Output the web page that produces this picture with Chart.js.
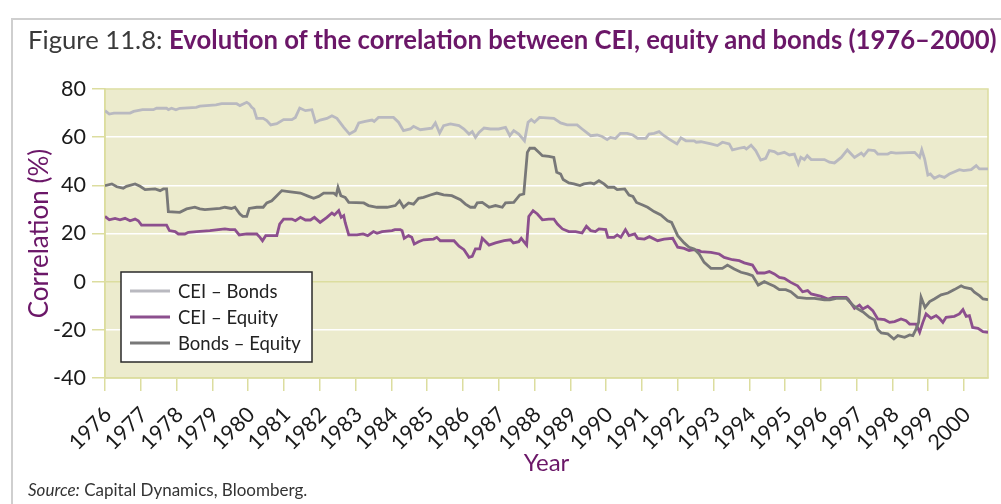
<!DOCTYPE html>
<html>
<head>
<meta charset="utf-8">
<script src="https://cdn.jsdelivr.net/npm/chart.js@4.4.1/dist/chart.umd.min.js"></script>
<style>
  html, body { margin: 0; padding: 0; background: #fff; }
  #wrap { position: relative; width: 1001px; height: 504px; overflow: hidden; font-family: Lato, sans-serif; }
  #c { position: absolute; left: 0; top: 0; }
  #title { position: absolute; left: 28px; top: 24px; font-size: 25.7px; white-space: nowrap; line-height: 30px; }
  #title .lead { font-weight: 400; color: #3a3a3a; }
  #title .main { font-weight: 700; color: #6b1768; }
  #source { position: absolute; left: 28px; top: 479px; font-size: 17px; color: #333; white-space: nowrap; line-height: 22px; }
</style>
</head>
<body>
<div id="wrap">
  <canvas id="c" width="1001" height="504"></canvas>
  <div id="title"><span class="lead">Figure 11.8: </span><span class="main">Evolution of the correlation between CEI, equity and bonds (1976–2000)</span></div>
  <div id="source"><i>Source:</i> Capital Dynamics, Bloomberg.</div>
</div>
<script>
// ---- Data ----
const seriesLabels = ['CEI – Bonds', 'CEI – Equity', 'Bonds – Equity'];
const yTicks = [-40, -20, 0, 20, 40, 60, 80];
const xTickYears = [1976,1977,1978,1979,1980,1981,1982,1983,1984,1985,1986,1987,1988,1989,1990,1991,1992,1993,1994,1995,1996,1997,1998,1999,2000];

const ceiBondsX = [1976.00,1976.12,1976.25,1976.70,1976.80,1977.05,1977.35,1977.44,1977.72,1977.77,1977.86,1977.98,1978.09,1978.55,1978.65,1979.10,1979.26,1979.68,1979.77,1979.96,1980.03,1980.10,1980.16,1980.24,1980.42,1980.52,1980.63,1980.80,1980.99,1981.22,1981.32,1981.44,1981.60,1981.78,1981.88,1982.01,1982.20,1982.34,1982.48,1982.67,1982.83,1982.99,1983.09,1983.27,1983.46,1983.52,1983.64,1984.06,1984.20,1984.34,1984.53,1984.62,1984.81,1985.13,1985.23,1985.35,1985.46,1985.65,1985.89,1986.03,1986.17,1986.26,1986.35,1986.45,1986.59,1986.77,1987.00,1987.19,1987.31,1987.42,1987.56,1987.72,1987.82,1987.91,1988.00,1988.14,1988.54,1988.73,1988.91,1989.19,1989.33,1989.57,1989.75,1989.89,1990.03,1990.12,1990.26,1990.40,1990.59,1990.75,1990.88,1991.11,1991.20,1991.34,1991.48,1991.62,1991.76,1991.98,1992.09,1992.23,1992.46,1992.52,1992.65,1992.93,1993.11,1993.25,1993.44,1993.53,1993.72,1993.86,1993.92,1994.05,1994.18,1994.32,1994.46,1994.56,1994.70,1994.80,1994.98,1995.12,1995.26,1995.37,1995.44,1995.54,1995.62,1995.73,1996.10,1996.24,1996.38,1996.57,1996.74,1996.94,1997.13,1997.20,1997.33,1997.50,1997.59,1997.87,1997.96,1998.10,1998.62,1998.76,1998.82,1998.90,1998.99,1999.06,1999.17,1999.31,1999.45,1999.59,1999.87,1999.99,2000.20,2000.34,2000.43,2000.67];
const ceiBondsY = [71.0,69.6,70.0,70.0,70.7,71.4,71.4,72.0,72.0,71.4,72.0,71.4,72.0,72.4,72.9,73.4,73.9,73.9,73.1,74.5,73.8,72.4,71.7,67.8,67.8,66.9,65.1,65.6,67.3,67.3,68.2,72.1,71.0,71.4,66.2,67.1,67.8,68.9,67.8,64.1,61.3,62.7,65.9,66.6,67.1,66.5,68.2,68.2,66.2,62.7,63.4,64.5,63.1,63.7,65.9,61.7,64.8,65.5,64.8,63.4,61.3,62.3,59.9,62.0,63.8,63.4,63.4,64.1,60.6,62.7,61.3,58.5,66.2,67.3,66.2,68.2,67.8,65.9,65.1,65.1,63.4,60.6,60.9,60.3,59.0,59.9,59.5,61.6,61.6,60.9,59.5,59.5,61.3,61.6,62.3,60.6,59.2,57.2,59.7,58.5,58.5,57.9,58.1,57.2,56.5,57.9,57.2,54.7,55.4,55.8,55.1,56.7,54.4,50.5,51.2,54.4,54.0,53.0,53.7,52.6,53.0,48.9,51.6,50.7,52.3,50.7,50.7,49.6,49.3,51.6,54.7,51.6,53.4,52.3,54.7,54.4,53.0,53.0,53.7,53.4,53.7,51.6,54.8,50.9,44.3,44.7,42.9,44.0,43.3,44.7,46.5,46.1,46.5,48.2,46.8,46.8];

const ceiEquityX = [1976.00,1976.12,1976.28,1976.42,1976.56,1976.70,1976.84,1976.93,1977.02,1977.72,1977.80,1977.96,1978.05,1978.23,1978.33,1978.56,1978.93,1979.17,1979.35,1979.49,1979.63,1979.75,1979.96,1980.24,1980.33,1980.40,1980.49,1980.80,1980.88,1980.99,1981.22,1981.32,1981.46,1981.60,1981.74,1981.85,1982.01,1982.20,1982.34,1982.41,1982.53,1982.60,1982.67,1982.71,1982.81,1983.04,1983.21,1983.34,1983.50,1983.60,1983.74,1984.02,1984.10,1984.25,1984.30,1984.36,1984.48,1984.57,1984.64,1984.76,1984.90,1985.18,1985.27,1985.37,1985.75,1985.89,1986.03,1986.17,1986.26,1986.35,1986.47,1986.54,1986.73,1986.91,1987.15,1987.33,1987.41,1987.56,1987.63,1987.78,1987.84,1987.96,1988.08,1988.22,1988.40,1988.54,1988.64,1988.78,1988.96,1989.15,1989.33,1989.45,1989.57,1989.70,1989.80,1989.99,1990.05,1990.22,1990.31,1990.41,1990.54,1990.64,1990.80,1990.88,1991.07,1991.21,1991.44,1991.62,1991.86,1992.00,1992.18,1992.32,1992.46,1992.60,1992.65,1992.93,1993.16,1993.30,1993.53,1993.72,1993.86,1994.09,1994.23,1994.42,1994.56,1994.70,1994.84,1994.98,1995.16,1995.35,1995.49,1995.63,1995.73,1996.01,1996.20,1996.34,1996.71,1996.76,1996.94,1997.08,1997.17,1997.31,1997.45,1997.59,1997.78,1997.92,1998.06,1998.24,1998.38,1998.48,1998.66,1998.76,1998.85,1998.94,1999.08,1999.22,1999.31,1999.41,1999.50,1999.73,1999.87,1999.97,2000.06,2000.15,2000.24,2000.39,2000.53,2000.67];
const ceiEquityY = [27.1,25.7,26.3,25.7,26.3,25.3,26.0,25.3,23.5,23.5,21.2,20.8,19.8,19.8,20.5,20.8,21.2,21.6,21.9,21.6,21.6,19.4,19.8,19.8,18.4,17.0,19.1,19.1,23.9,26.0,26.0,25.3,26.7,25.6,25.6,26.7,24.6,26.7,28.5,27.7,29.5,26.7,27.4,24.6,19.4,19.4,19.8,19.1,20.8,20.1,20.8,21.2,21.6,21.6,21.2,18.0,19.1,18.4,15.6,16.6,17.4,17.7,18.4,17.0,17.0,14.7,13.3,10.1,10.5,13.6,13.6,18.0,15.2,16.1,17.0,17.4,16.1,16.6,18.0,15.2,27.1,29.5,28.1,25.7,26.0,26.0,23.9,21.9,20.8,20.8,20.2,23.0,21.2,20.8,21.9,21.6,18.4,18.4,19.4,18.4,21.6,19.1,19.8,18.0,17.7,18.7,17.0,17.7,18.0,14.3,13.8,12.9,13.3,12.9,12.5,12.2,11.5,10.1,9.1,8.7,7.8,6.9,3.6,3.6,4.2,3.2,1.8,1.4,-0.3,-1.7,-4.2,-3.7,-5.1,-6.1,-7.2,-6.5,-6.5,-7.2,-11.1,-9.7,-11.3,-10.2,-12.0,-15.5,-15.8,-16.9,-16.6,-15.5,-16.2,-17.6,-17.6,-21.0,-16.9,-13.4,-15.2,-14.1,-15.2,-16.9,-14.8,-14.4,-13.4,-11.6,-14.4,-14.1,-19.0,-19.4,-20.8,-21.0];

const bondsEquityX = [1976.00,1976.19,1976.33,1976.51,1976.60,1976.84,1976.98,1977.12,1977.40,1977.54,1977.63,1977.72,1977.77,1978.09,1978.28,1978.51,1978.65,1978.79,1979.21,1979.35,1979.53,1979.63,1979.77,1979.85,1979.96,1980.03,1980.24,1980.42,1980.52,1980.66,1980.78,1980.94,1981.13,1981.46,1981.69,1981.83,1981.97,1982.11,1982.39,1982.46,1982.51,1982.59,1982.71,1982.81,1983.23,1983.36,1983.60,1983.88,1984.11,1984.23,1984.34,1984.48,1984.62,1984.76,1984.90,1985.09,1985.27,1985.46,1985.69,1985.93,1986.07,1986.21,1986.33,1986.40,1986.54,1986.73,1986.91,1987.10,1987.19,1987.42,1987.59,1987.70,1987.80,1987.87,1988.00,1988.12,1988.22,1988.40,1988.54,1988.62,1988.73,1988.80,1988.96,1989.10,1989.27,1989.38,1989.57,1989.66,1989.80,1989.94,1990.05,1990.22,1990.31,1990.52,1990.64,1990.75,1990.85,1991.02,1991.16,1991.34,1991.53,1991.72,1991.83,1992.00,1992.18,1992.32,1992.46,1992.60,1992.74,1992.93,1993.25,1993.39,1993.58,1993.77,1993.95,1994.09,1994.25,1994.42,1994.56,1994.70,1994.84,1995.02,1995.16,1995.35,1995.60,1995.82,1996.10,1996.25,1996.43,1996.71,1996.89,1997.03,1997.17,1997.36,1997.50,1997.59,1997.69,1997.87,1998.04,1998.15,1998.34,1998.48,1998.57,1998.66,1998.73,1998.80,1998.91,1999.04,1999.17,1999.36,1999.55,1999.73,1999.92,2000.01,2000.20,2000.29,2000.43,2000.53,2000.67];
const bondsEquityY = [39.9,40.6,39.4,38.8,39.6,40.6,39.6,38.2,38.5,37.8,38.5,38.5,29.1,28.8,30.2,30.9,30.2,29.9,30.4,30.9,30.4,30.9,28.1,27.1,27.1,30.4,30.9,30.9,32.7,33.6,35.4,37.8,37.4,36.8,35.4,34.6,35.4,36.8,36.8,36.0,39.2,35.7,35.0,32.9,32.7,31.6,30.9,30.9,31.6,33.6,30.9,32.7,32.2,34.6,35.0,36.0,36.8,36.0,35.7,34.0,32.2,30.9,30.9,32.7,32.9,30.9,31.6,30.9,32.7,32.9,36.0,36.4,53.7,55.4,55.4,53.7,52.3,52.0,51.6,45.4,44.7,42.4,41.0,40.6,39.9,40.6,41.0,40.6,41.9,40.6,39.2,39.2,38.2,38.5,36.0,35.4,32.9,31.8,30.9,29.1,27.7,25.3,24.6,19.1,16.1,14.3,13.6,11.5,8.0,5.5,5.5,6.9,5.3,3.9,3.2,2.5,-1.4,0.0,-1.0,-1.9,-3.3,-3.3,-4.2,-6.5,-6.9,-6.9,-7.5,-7.5,-6.9,-6.9,-9.7,-11.3,-12.5,-14.8,-15.8,-19.9,-21.3,-21.7,-23.8,-22.4,-23.1,-22.1,-22.4,-19.7,-16.9,-6.5,-10.7,-8.3,-7.2,-5.5,-4.7,-3.3,-1.7,-2.4,-3.0,-4.4,-5.8,-7.2,-7.5];

const xMin = 1976, xMax = 2000.67;

// ---- Build ----
const zip = (xs, ys) => xs.map((x, i) => ({ x: x, y: ys[i] }));
const PURPLE = '#6b1768';
const YEL = '#dcdd9f';
const colors = ['#b9b9c0', '#8c4f8e', '#787878'];

const plotDecor = {
  id: 'plotDecor',
  beforeDraw(chart) {
    const { ctx, chartArea: a } = chart;
    ctx.save();
    ctx.strokeStyle = '#cfcfcf';
    ctx.lineWidth = 2;
    ctx.beginPath();
    ctx.moveTo(12, 504); ctx.lineTo(12, 19); ctx.lineTo(1001, 19);
    ctx.stroke();
    ctx.fillStyle = '#ecebcd';
    ctx.fillRect(a.left, a.top, a.right - a.left, a.bottom - a.top);
    ctx.restore();
  },
  beforeDatasetsDraw(chart) {
    const { ctx, chartArea: a } = chart;
    ctx.save();
    ctx.strokeStyle = YEL;
    ctx.lineWidth = 1.5;
    ctx.strokeRect(a.left, a.top, a.right - a.left, a.bottom - a.top);
    ctx.restore();
  },
  afterDatasetsDraw(chart) {
    const { ctx, chartArea: a } = chart;
    const ds = chart.data.datasets;
    const bx = a.left + 16, by = a.top + 183, bw = 191, bh = 90;
    ctx.save();
    ctx.fillStyle = '#ffffff';
    ctx.fillRect(bx, by, bw, bh);
    ctx.strokeStyle = '#2a2a2a';
    ctx.lineWidth = 1.5;
    ctx.strokeRect(bx, by, bw, bh);
    ctx.font = '18.5px Lato, sans-serif';
    ctx.textBaseline = 'middle';
    ctx.textAlign = 'left';
    ds.forEach((d, i) => {
      const y = by + 19 + i * 26;
      ctx.strokeStyle = d.borderColor;
      ctx.lineWidth = 3;
      ctx.beginPath();
      ctx.moveTo(bx + 9, y); ctx.lineTo(bx + 49, y);
      ctx.stroke();
      ctx.fillStyle = '#222';
      ctx.fillText(d.label, bx + 57, y + 1);
    });
    ctx.restore();
  }
};

function build() {
  Chart.defaults.font.family = 'Lato, sans-serif';
  new Chart(document.getElementById('c'), {
    type: 'line',
    data: {
      datasets: [
        { label: seriesLabels[0], data: zip(ceiBondsX, ceiBondsY), borderColor: colors[0], order: 2 },
        { label: seriesLabels[1], data: zip(ceiEquityX, ceiEquityY), borderColor: colors[1], order: 1 },
        { label: seriesLabels[2], data: zip(bondsEquityX, bondsEquityY), borderColor: colors[2], order: 0 }
      ].map(d => Object.assign(d, { borderWidth: 2.8, pointRadius: 0, tension: 0, fill: false }))
    },
    options: {
      responsive: false,
      animation: false,
      devicePixelRatio: 1,
      layout: { padding: { left: 0, right: 13, top: 89, bottom: 0 } },
      plugins: { legend: { display: false }, tooltip: { enabled: false }, title: { display: false } },
      scales: {
        x: {
          type: 'linear',
          min: xMin, max: xMax,
          afterFit: s => { s.height = 126; },
          afterBuildTicks: s => { s.ticks = xTickYears.map(v => ({ value: v })); },
          ticks: {
            autoSkip: false, maxRotation: 45, minRotation: 45, padding: 11, labelOffset: 3,
            color: '#1a1a1a', font: { size: 21.5 },
            callback: v => String(v)
          },
          grid: { drawOnChartArea: false, drawTicks: true, tickLength: 13, tickColor: YEL, lineWidth: 1.5 },
          border: { display: true, color: YEL, width: 1.5 },
          title: { display: true, text: 'Year', color: PURPLE, font: { size: 24 }, padding: { top: 0, bottom: 26.6 } }
        },
        y: {
          min: -40, max: 80,
          afterFit: s => { s.width = 105; },
          afterBuildTicks: s => { s.ticks = yTicks.map(v => ({ value: v })); },
          ticks: { color: '#1a1a1a', font: { size: 21.5 }, padding: 6, callback: v => String(v) },
          grid: {
            color: c => (c.tick && c.tick.value === 0) ? YEL : '#ffffff',
            lineWidth: 1.5, tickColor: YEL, tickLength: 13
          },
          border: { display: true, color: YEL, width: 1.5 },
          title: { display: true, text: 'Correlation (%)', color: PURPLE, font: { size: 26 }, padding: { top: 24.4, bottom: 0 } }
        }
      }
    },
    plugins: [plotDecor]
  });
}

const fontLoads = ['400 25px Lato', '700 25px Lato', '400 20px Lato', 'italic 400 17px Lato'].map(f => document.fonts.load(f).catch(() => null));
Promise.all(fontLoads).then(build, build);
</script>
</body>
</html>
